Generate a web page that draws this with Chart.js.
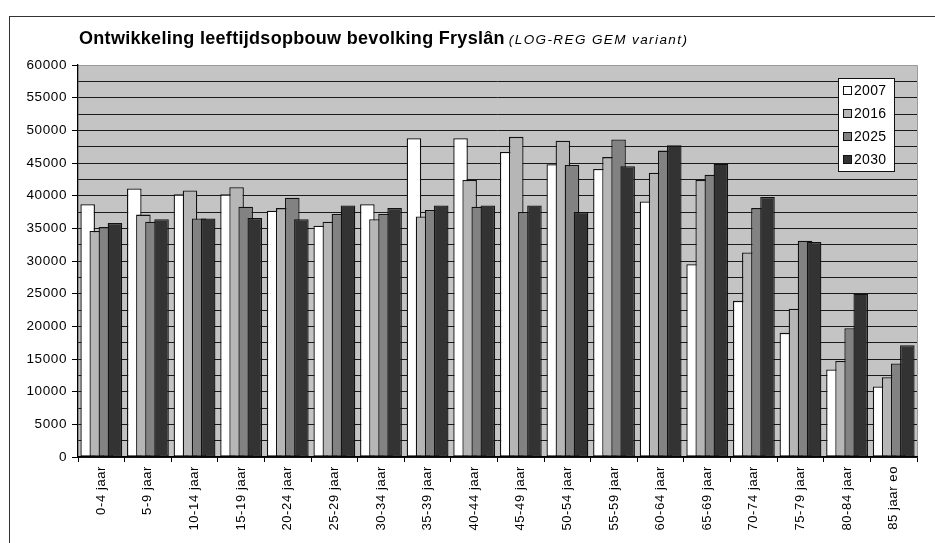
<!DOCTYPE html>
<html>
<head>
<meta charset="utf-8">
<script src="https://cdn.jsdelivr.net/npm/chart.js@4.4.1/dist/chart.umd.min.js"></script>
<style>
  html, body { margin: 0; padding: 0; background: #fff; width: 935px; height: 543px; overflow: hidden; }
  #wrap { position: absolute; left: 0; top: 0; width: 935px; height: 543px; }
  #frame { position: absolute; left: 9px; top: 16px; width: 940px; height: 540px;
           border: 1.5px solid #333; pointer-events: none; }
</style>
</head>
<body>
<div id="wrap"><canvas id="chart" width="935" height="543"></canvas></div>
<div id="frame"></div>
<script>
// Leeftijdsklassen (x-as)
const ageGroups = ['0-4 jaar', '5-9 jaar', '10-14 jaar', '15-19 jaar', '20-24 jaar', '25-29 jaar',
  '30-34 jaar', '35-39 jaar', '40-44 jaar', '45-49 jaar', '50-54 jaar', '55-59 jaar',
  '60-64 jaar', '65-69 jaar', '70-74 jaar', '75-79 jaar', '80-84 jaar', '85 jaar eo'];

// Bevolking per leeftijdsklasse per jaar
const pop2007 = [38700, 41100, 40200, 40200, 37700, 35400, 38700, 48800, 48800, 46700, 44800, 44100,
  39100, 29500, 23900, 19000, 13400, 10800];
const pop2016 = [34600, 37100, 40800, 41300, 38100, 36000, 36400, 36800, 42400, 49000, 48400, 45900,
  43500, 42400, 31300, 22700, 14700, 12200];
const pop2025 = [35200, 36000, 36500, 38300, 39700, 37200, 37200, 37800, 38300, 37500, 44700, 48600,
  46900, 43200, 38100, 33100, 19700, 14300];
const pop2030 = [35800, 36400, 36500, 36600, 36400, 38500, 38100, 38500, 38500, 38500, 37500, 44500,
  47700, 44900, 39800, 32900, 25000, 17100];

const seriesLabels = ['2007', '2016', '2025', '2030'];
const seriesValues = [pop2007, pop2016, pop2025, pop2030];
const seriesColors = ['#ffffff', '#b6b6b6', '#828282', '#333333'];

const yTicksLabelled = 5000;   // labelled tick interval
const yGridStep = 2500;        // gridline interval
const yMax = 60000;

const FONT = "'Liberation Sans', Arial, Helvetica, sans-serif";

// grey plot background with a light top/right edge; slightly spaced axis lettering
const plotBackground = {
  id: 'plotBackground',
  beforeDraw(chart) {
    const { ctx, chartArea: a } = chart;
    ctx.save();
    ctx.fillStyle = '#c4c4c4';
    ctx.fillRect(a.left, a.top, a.right - a.left, a.bottom - a.top);
    ctx.strokeStyle = '#9a9a9a';
    ctx.lineWidth = 1;
    ctx.beginPath();
    ctx.moveTo(a.left, a.top + 0.5);
    ctx.lineTo(a.right + 0.5, a.top + 0.5);
    ctx.lineTo(a.right + 0.5, a.bottom);
    ctx.stroke();
    ctx.restore();
    ctx.letterSpacing = '0.6px';
  }
};

// later years are painted over the earlier ones in each group
const paintInSeriesOrder = {
  id: 'paintInSeriesOrder',
  beforeDatasetsDraw(chart) {
    const a = chart.chartArea;
    const ctx = chart.ctx;
    ctx.save();
    ctx.beginPath();
    ctx.rect(a.left, a.top - 2, a.right - a.left, a.bottom - a.top + 2);
    ctx.clip();
    for (let i = 0; i < chart.data.datasets.length; i++) {
      const meta = chart.getDatasetMeta(i);
      if (!meta.hidden) meta.controller.draw();
    }
    ctx.restore();
    return false;
  }
};

// boxed legend inside the plot area
const boxedLegend = {
  id: 'boxedLegend',
  afterDraw(chart) {
    const { ctx, chartArea: a } = chart;
    const x = a.right - 79, y = a.top + 13, w = 56, h = 93;
    ctx.save();
    ctx.fillStyle = '#fff';
    ctx.fillRect(x, y, w, h);
    ctx.strokeStyle = '#111';
    ctx.lineWidth = 1;
    ctx.strokeRect(x + 0.5, y + 0.5, w, h);
    ctx.font = '14px ' + FONT;
    ctx.letterSpacing = '0.3px';
    ctx.textBaseline = 'middle';
    chart.data.datasets.forEach((ds, i) => {
      const cy = y + 12 + i * 23;
      ctx.fillStyle = ds.backgroundColor;
      ctx.fillRect(x + 5, cy - 4, 8, 8);
      ctx.strokeStyle = '#111';
      ctx.strokeRect(x + 5.5, cy - 3.5, 8, 8);
      ctx.fillStyle = '#000';
      ctx.fillText(ds.label, x + 16, cy + 1);
    });
    ctx.restore();
  }
};

// two-part heading: bold main title + italic note
const heading = {
  id: 'heading',
  afterDraw(chart) {
    const ctx = chart.ctx;
    ctx.save();
    ctx.fillStyle = '#000';
    ctx.textBaseline = 'alphabetic';
    const main = 'Ontwikkeling leeftijdsopbouw bevolking Fryslân';
    ctx.font = 'bold 18px ' + FONT;
    ctx.letterSpacing = '0.3px';
    ctx.fillText(main, 79, 44);
    const w = ctx.measureText(main).width;
    ctx.font = 'italic 13.5px ' + FONT;
    ctx.letterSpacing = '1.4px';
    ctx.fillText('(LOG-REG GEM variant)', 79 + w + 4, 44);
    ctx.restore();
  }
};

new Chart(document.getElementById('chart'), {
  type: 'bar',
  data: {
    labels: ageGroups,
    datasets: seriesLabels.map((label, i) => ({
      label,
      data: seriesValues[i],
      backgroundColor: seriesColors[i],
      borderColor: '#111111',
      borderWidth: 1.3,
      borderSkipped: false,
      categoryPercentage: 0.78,
      barPercentage: 1.6
    }))
  },
  options: {
    responsive: false,
    animation: false,
    devicePixelRatio: 1,
    layout: { padding: { left: 0, top: 65, right: 18, bottom: 0 } },
    plugins: {
      legend: { display: false },
      title: { display: false },
      tooltip: { enabled: false }
    },
    scales: {
      x: {
        afterFit(scale) { scale.height = 86; },
        border: { display: true, color: '#000', width: 1.3 },
        grid: {
          offset: true,
          drawOnChartArea: false,
          drawTicks: true,
          tickLength: 5,
          tickColor: '#000',
          tickWidth: 1
        },
        ticks: {
          autoSkip: false,
          minRotation: 90,
          maxRotation: 90,
          padding: 4,
          color: '#000',
          font: { family: FONT, size: 13 }
        }
      },
      y: {
        min: 0,
        max: yMax,
        afterFit(scale) { scale.width = 78; },
        border: { display: true, color: '#000', width: 1.3 },
        grid: {
          color: ctx => (ctx.tick && ctx.tick.value === yMax) ? 'rgba(0,0,0,0)' : '#1a1a1a',
          lineWidth: 1,
          tickLength: 6,
          tickColor: ctx => (ctx.tick && ctx.tick.value % yTicksLabelled === 0) ? '#000' : 'rgba(0,0,0,0)'
        },
        ticks: {
          stepSize: yGridStep,
          autoSkip: false,
          padding: 5,
          color: '#000',
          font: { family: FONT, size: 13.5 },
          callback: v => (v % yTicksLabelled === 0 ? String(v) : '')
        }
      }
    }
  },
  plugins: [plotBackground, paintInSeriesOrder, boxedLegend, heading]
});
</script>
</body>
</html>
